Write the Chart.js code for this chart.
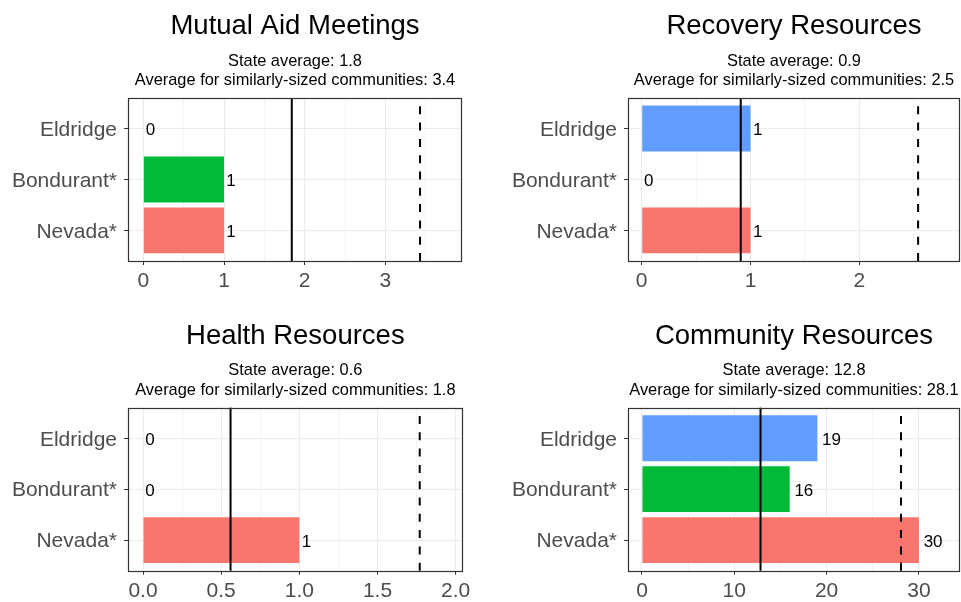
<!DOCTYPE html>
<html>
<head>
<meta charset="utf-8">
<script src="https://cdn.jsdelivr.net/npm/chart.js@4.4.1/dist/chart.umd.min.js"></script>
<style>
    html, body { margin: 0; padding: 0; background: #fff; }
    #wrap { position: relative; width: 961px; height: 602px; overflow: hidden; }
    #wrap canvas { position: absolute; }
</style>
</head>
<body>
<div id="wrap">
    <canvas id="mutualChart" width="480" height="300" style="left:0;top:0"></canvas>
    <canvas id="recoveryChart" width="481" height="300" style="left:480px;top:0"></canvas>
    <canvas id="healthChart" width="480" height="302" style="left:0;top:300px"></canvas>
    <canvas id="communityChart" width="481" height="302" style="left:480px;top:300px"></canvas>
</div>
<script>
// Communities, top to bottom, and their bar colours
const communities = ['Eldridge', 'Bondurant*', 'Nevada*'];
const barColors = ['#619CFF', '#00BA38', '#F8766D'];

// Counts per community for each resource type
const mutualAid = [0, 1, 1];
const recovery = [1, 0, 1];
const health = [0, 0, 1];
const community = [19, 16, 30];

// Reference lines: state average (solid) and similar-size average (dashed)
const panelTitles = ['Mutual Aid Meetings', 'Recovery Resources', 'Health Resources', 'Community Resources'];
const stateAvg = [1.84, 0.91, 0.56, 12.84];
const similarAvg = [3.43, 2.54, 1.77, 28.06];

// Axis ranges and major tick step of each panel
const xMin = [-0.19, -0.126, -0.096, -1.515];
const xMax = [3.95, 2.925, 2.045, 34.45];
const xMajor = [1, 1, 0.5, 10];
const xDecimals = [0, 0, 1, 0];

const FONT = '"Liberation Sans", Arial, sans-serif';

const refLines = {
    id: 'refLines',
    afterDatasetsDraw(chart, args, o) {
        const { ctx, chartArea: a, scales: { x } } = chart;
        ctx.save();
        ctx.strokeStyle = '#000';
        ctx.lineWidth = 2;
        [[o.state, []], [o.similar, [8, 8.3]]].forEach(([v, dash]) => {
            const px = x.getPixelForValue(v);
            ctx.setLineDash(dash);
            ctx.beginPath();
            ctx.moveTo(px, a.bottom);
            ctx.lineTo(px, a.top);
            ctx.stroke();
        });
        ctx.restore();
    },
};

const valueLabels = {
    id: 'valueLabels',
    afterDatasetsDraw(chart) {
        const { ctx } = chart;
        const meta = chart.getDatasetMeta(0);
        ctx.save();
        ctx.font = '17px ' + FONT;
        ctx.fillStyle = '#000';
        ctx.textAlign = 'left';
        ctx.textBaseline = 'middle';
        meta.data.forEach((bar, i) => {
            const txt = String(chart.data.datasets[0].data[i].x);
            const w = ctx.measureText(txt).width;
            ctx.fillText(txt, bar.x + w * 0.25, bar.y + 2);
        });
        ctx.restore();
    },
};

const panelBorder = {
    id: 'panelBorder',
    afterDraw(chart) {
        const { ctx, chartArea: a } = chart;
        ctx.save();
        ctx.strokeStyle = '#333333';
        ctx.lineWidth = 1.2;
        ctx.strokeRect(Math.round(a.left) + 0.5, Math.round(a.top) + 0.5,
            Math.round(a.right) - Math.round(a.left) - 1, Math.round(a.bottom) - Math.round(a.top));
        ctx.restore();
    },
};

function makePanel(canvasId, i, values, box) {
    const step = xMajor[i];
    const isMajor = (v) => Math.abs(v / step - Math.round(v / step)) < 1e-6;
    const h = document.getElementById(canvasId).height;

    return new Chart(document.getElementById(canvasId), {
        type: 'bar',
        data: {
            datasets: [{
                data: values.map((v, k) => ({ x: v, y: k })),
                backgroundColor: barColors,
                borderWidth: 0,
                barPercentage: 0.9,
                categoryPercentage: 1,
            }],
        },
        options: {
            indexAxis: 'y',
            responsive: false,
            animation: false,
            devicePixelRatio: 1,
            layout: { padding: { top: box.top, right: box.right, bottom: 0, left: 0 } },
            plugins: {
                legend: { display: false },
                tooltip: { enabled: false },
                title: {
                    display: true, fullSize: false, text: panelTitles[i], color: '#000',
                    font: { family: FONT, size: 27.5, weight: 'normal', lineHeight: 1.2 },
                    padding: { top: 10.3, bottom: 4 },
                },
                subtitle: {
                    display: true, fullSize: false, color: '#000',
                    text: ['State average: ' + stateAvg[i].toFixed(1),
                           'Average for similarly-sized communities: ' + similarAvg[i].toFixed(1)],
                    font: { family: FONT, size: 16.4, weight: 'normal', lineHeight: 1.2 },
                    padding: { top: 4, bottom: 7.3 },
                },
                refLines: { state: stateAvg[i], similar: similarAvg[i] },
            },
            scales: {
                x: {
                    type: 'linear', min: xMin[i], max: xMax[i],
                    afterFit: (s) => { s.height = h - box.bottom; },
                    border: { display: false },
                    grid: {
                        color: (c) => isMajor(c.tick.value) ? '#EBEBEB' : '#F4F4F4',
                        lineWidth: 1,
                        tickLength: 4,
                        tickColor: (c) => isMajor(c.tick.value) ? '#333333' : 'rgba(0,0,0,0)',
                    },
                    ticks: {
                        stepSize: step / 2, includeBounds: false, autoSkip: false, maxRotation: 0,
                        padding: 4, color: '#4D4D4D', font: { family: FONT, size: 21 },
                        callback: (v) => isMajor(v) ? v.toFixed(xDecimals[i]) : '',
                    },
                },
                y: {
                    type: 'linear', min: -0.6, max: 2.6, reverse: true, offset: false,
                    afterFit: (s) => { s.width = box.left; },
                    border: { display: false },
                    grid: { offset: false, color: '#EBEBEB', lineWidth: 1, tickLength: 4, tickColor: '#333333' },
                    ticks: {
                        stepSize: 1, includeBounds: false, padding: 7, labelOffset: 1.5,
                        color: '#4D4D4D', font: { family: FONT, size: 21 },
                        callback: (v) => communities[v],
                    },
                },
            },
        },
        plugins: [refLines, valueLabels, panelBorder],
    });
}

makePanel('mutualChart', 0, mutualAid, { top: 0, left: 128, right: 18, bottom: 261 });
makePanel('recoveryChart', 1, recovery, { top: 0, left: 148, right: 1, bottom: 261 });
makePanel('healthChart', 2, health, { top: 9.7, left: 128, right: 17.3, bottom: 270.7 });
makePanel('communityChart', 3, community, { top: 9.7, left: 148, right: 1, bottom: 270.7 });
</script>
</body>
</html>
